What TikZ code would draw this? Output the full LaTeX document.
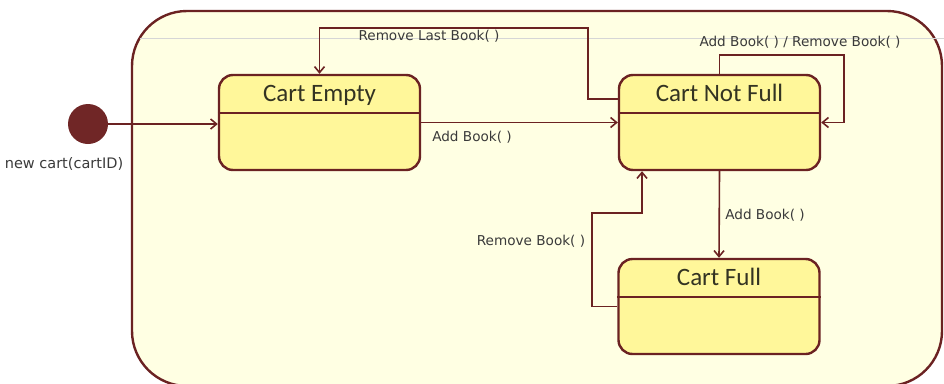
\documentclass[tikz,border=0pt]{standalone}
\usepackage{fontspec}
\usetikzlibrary{arrows.meta}
\newfontfamily\titlefont{Carlito}
\newfontfamily\labelfont{DejaVu Sans}
\definecolor{maroon}{HTML}{6B2222}
\definecolor{dotfill}{HTML}{702626}
\definecolor{panel}{HTML}{FFFFE3}
\definecolor{statefill}{HTML}{FFF79A}
\definecolor{titleink}{HTML}{333322}
\definecolor{labelink}{HTML}{3A3A3A}
\tikzset{
  statebox/.style={draw=maroon, line width=2.4pt, fill=statefill, rounded corners=14pt,
    minimum width=201pt, minimum height=95pt, inner sep=0pt},
  statetitle/.style={font=\titlefont\fontsize{25}{25}\selectfont, text=titleink, anchor=base, inner sep=0pt},
  trans/.style={draw=maroon, line width=1.6pt, -{Straight Barb[length=6pt,width=10pt]}},
  translabel/.style={font=\labelfont\fontsize{13.6}{14}\selectfont, text=labelink, inner sep=0pt},
}
\begin{document}
\begin{tikzpicture}[x=1pt, y=-1pt]
  \useasboundingbox (0,0) rectangle (944,383);
  \begin{scope}
    \clip (0,0) rectangle (944,383);
    % enclosing composite region
    \draw[draw=maroon, line width=2.4pt, fill=panel, rounded corners=55pt]
      (132,11) rectangle (942,386);
    \draw[color=black!16, line width=0.7pt] (140,38) -- (944,38);
  \end{scope}

  % initial pseudo-state
  \node[circle, fill=dotfill, minimum size=40pt, inner sep=0pt] (init) at (88,124) {};
  \node[translabel, font=\labelfont\fontsize{14.5}{15}\selectfont] (initlab) at (64,164) {new cart(cartID)};

  % states
  \node[statebox] (ce)  at (319.5,122.5) {};
  \node[statebox] (cnf) at (719.5,122.5) {};
  \node[statebox] (cf)  at (719,306.5) {};
  \foreach \s in {ce,cnf,cf}{
    \draw[maroon, line width=1.8pt] ([yshift=-39pt]\s.north west) -- ([yshift=-39pt]\s.north east);
  }
  \node[statetitle] (cetitle)  at ([yshift=-28pt]ce.north)  {Cart Empty};
  \node[statetitle] (cnftitle) at ([yshift=-28pt]cnf.north) {Cart Not Full};
  \node[statetitle] (cftitle)  at ([yshift=-28pt]cf.north)  {Cart Full};

  % routing corners
  \coordinate (rlcorner) at (588,28);
  \coordinate (loopcorner) at (844,55);
  \coordinate (rbcorner) at (592,213);

  % transitions
  \draw[trans] (init.east) -- (ce.west |- init.east);
  \draw[trans] (ce.east) -- (cnf.west);
  \draw[trans] ([yshift=23.5pt]cnf.west) -| (rlcorner) -| (ce.north);
  \draw[trans] (cnf.north) |- (loopcorner) |- (cnf.east);
  \draw[trans] (cnf.south) -- (cf.north);
  \draw[trans] (cf.west) -| (rbcorner) -| ([xshift=-77.5pt]cnf.south);

  % transition labels
  \node[translabel] (lrl)   at (429,36)  {Remove Last Book( )};
  \node[translabel] (lloop) at (800,42)  {Add Book( ) / Remove Book( )};
  \node[translabel] (ladd1) at (472,137) {Add Book( )};
  \node[translabel] (ladd2) at (765,215) {Add Book( )};
  \node[translabel] (lrb)   at (531,241) {Remove Book( )};
\end{tikzpicture}
\end{document}
